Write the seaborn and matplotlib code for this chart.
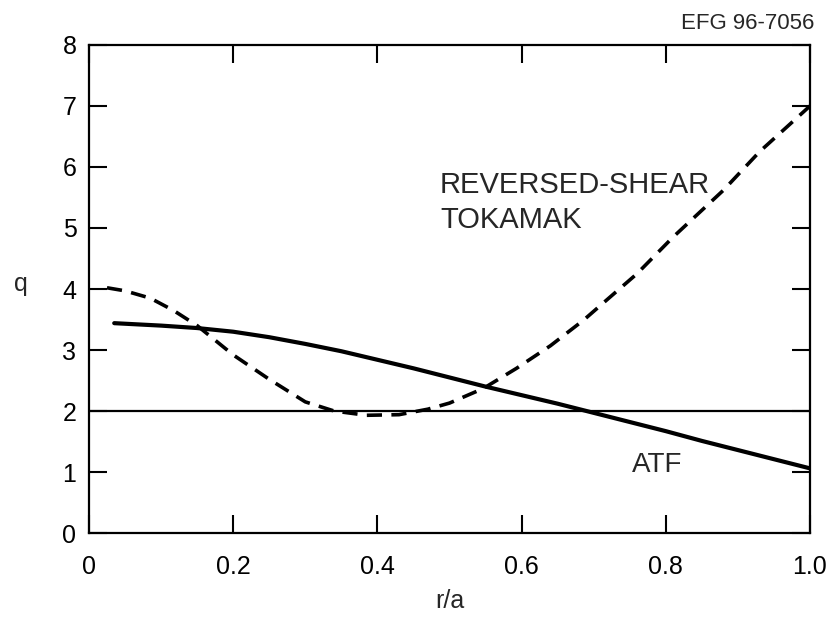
import matplotlib
matplotlib.use("Agg")
import matplotlib.pyplot as plt
import seaborn as sns
import pandas as pd

# Safety factor profiles q(r/a)
atf_r = [0.035, 0.10, 0.15, 0.20, 0.25, 0.30, 0.35, 0.40, 0.45, 0.50, 0.55, 0.60,
         0.65, 0.70, 0.75, 0.80, 0.85, 0.90, 0.95, 1.00]
atf_q = [3.44, 3.40, 3.36, 3.30, 3.21, 3.10, 2.98, 2.84, 2.70, 2.55, 2.40, 2.26,
         2.12, 1.97, 1.82, 1.67, 1.51, 1.36, 1.21, 1.06]

rs_r = [0.025, 0.05, 0.085, 0.117, 0.15, 0.20, 0.25, 0.30, 0.34, 0.385, 0.43, 0.47, 0.50,
        0.547, 0.593, 0.64, 0.686, 0.72, 0.76, 0.81, 0.88, 0.93, 1.00]
rs_q = [4.02, 3.97, 3.85, 3.65, 3.40, 2.92, 2.52, 2.15, 2.00, 1.93, 1.94, 2.03, 2.13,
        2.37, 2.70, 3.07, 3.49, 3.84, 4.25, 4.85, 5.62, 6.25, 7.00]

ref_r = [0.0, 1.0]
ref_q = [2.0, 2.0]

x_ticks = [0, 0.2, 0.4, 0.6, 0.8, 1.0]
x_labels = ["0", "0.2", "0.4", "0.6", "0.8", "1.0"]
y_ticks = [0, 1, 2, 3, 4, 5, 6, 7, 8]

sns.set_style("ticks")
plt.rcParams["font.family"] = ["Liberation Sans", "DejaVu Sans"]

fig = plt.figure(figsize=(8.34, 6.17), dpi=100)
ax = fig.add_axes([0.1067, 0.1361, 0.8645, 0.791])

atf = pd.DataFrame({"r": atf_r, "q": atf_q})
rs = pd.DataFrame({"r": rs_r, "q": rs_q})
ref = pd.DataFrame({"r": ref_r, "q": ref_q})

sns.lineplot(data=ref, x="r", y="q", ax=ax, color="black", linewidth=1.6, sort=False)
sns.lineplot(data=atf, x="r", y="q", ax=ax, color="black", linewidth=3.0, sort=False)
sns.lineplot(data=rs, x="r", y="q", ax=ax, color="black", linewidth=2.6, sort=False)
ax.lines[-1].set_dashes((4.2, 2.6))

ax.set_xlim(0, 1.0)
ax.set_ylim(0, 8)
ax.set_xticks(x_ticks)
ax.set_xticklabels(x_labels)
ax.set_yticks(y_ticks)

for s in ax.spines.values():
    s.set_visible(True)
    s.set_linewidth(1.6)
    s.set_color("black")

ax.tick_params(axis="both", which="major", direction="in", length=13, width=1.5,
               labelsize=18, top=True, right=True, colors="black")
ax.tick_params(axis="x", pad=16)
ax.tick_params(axis="y", pad=9)

ax.set_xlabel("r/a", fontsize=18, labelpad=7)
ax.set_ylabel("q", fontsize=18, rotation=0, va="center", ha="center")
ax.yaxis.set_label_coords(-0.095, 0.51)

ax.text(0.487, 5.57, "REVERSED-SHEAR", fontsize=21, ha="left", va="baseline")
ax.text(0.487, 5.0, "TOKAMAK", fontsize=21, ha="left", va="baseline")
ax.text(0.753, 1.0, "ATF", fontsize=20, ha="left", va="baseline")

fig.text(0.977, 0.953, "EFG 96-7056", fontsize=16, ha="right", va="baseline")

fig.savefig("out.png", dpi=100, facecolor="white")
